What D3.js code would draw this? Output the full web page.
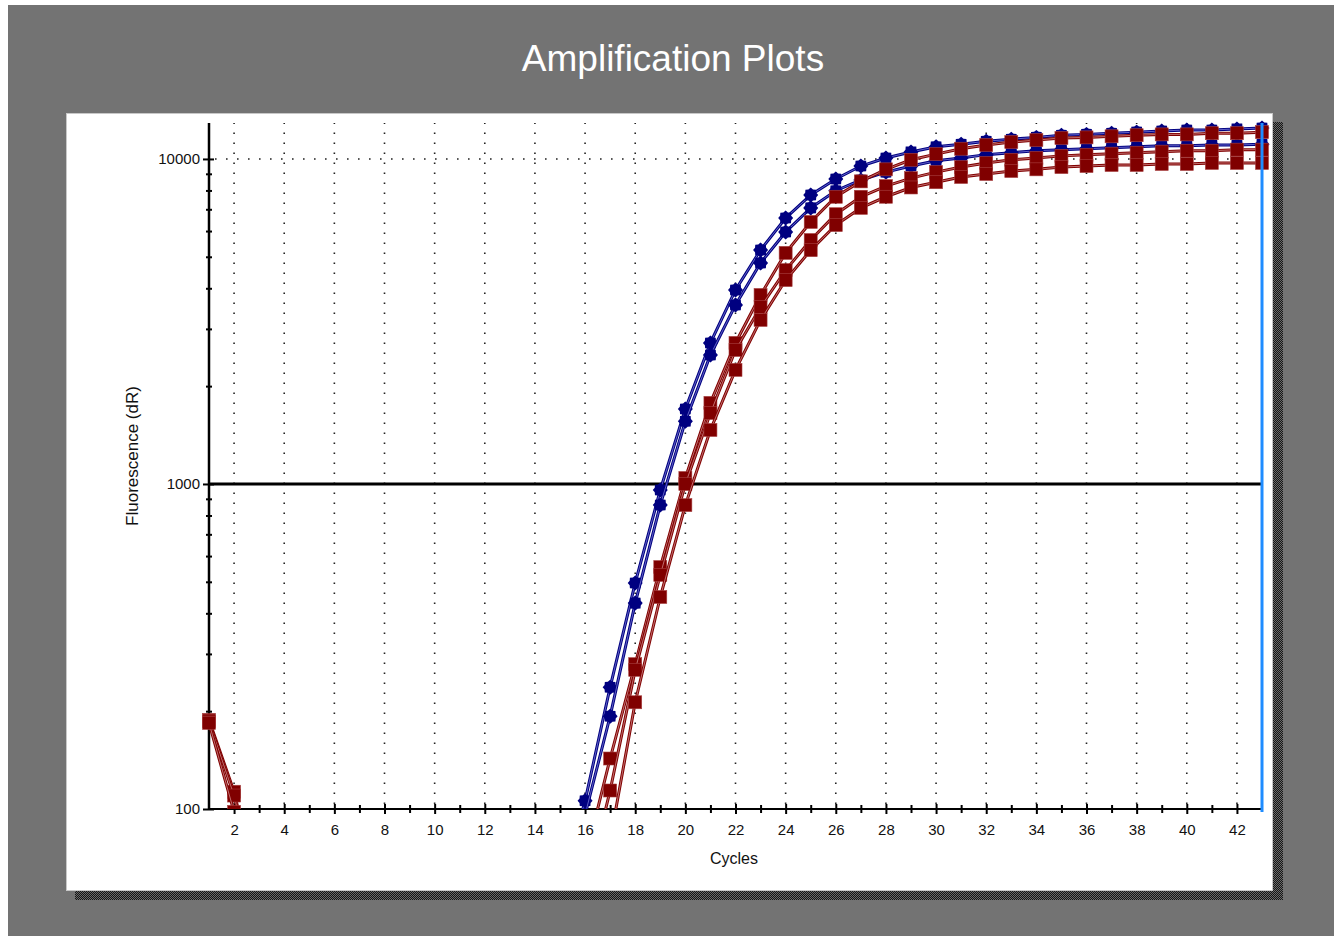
<!DOCTYPE html>
<html>
<head>
<meta charset="utf-8">
<script src="https://cdn.jsdelivr.net/npm/d3@7"></script>
<style>
  body { margin: 0; background: #fff; }
  svg { display: block; font-family: "Liberation Sans", Arial, sans-serif; }
</style>
</head>
<body>
<div id="chart-container"></div>
<script>
// data //

const cycles = d3.range(1, 44);
const xTickLabels = d3.range(2, 43, 2);
const xMinorTicks = d3.range(3, 43, 2);
const yTickLabels = [100, 1000, 10000];
const threshold = 1000;

// two blue wells (cycles 1..43), values below 100 sit under the axis
const blueA = [50, 45, 40, 40, 40, 40, 40, 40, 40, 40, 40, 40, 40, 45, 55, 106, 237, 496, 958, 1700, 2716, 3953, 5248, 6580, 7745, 8676, 9510, 10070, 10510, 10900, 11100, 11340, 11500, 11650, 11830, 11900, 12000, 12090, 12190, 12280, 12280, 12370, 12450];
const blueB = [48, 44, 40, 40, 40, 40, 40, 40, 40, 40, 40, 40, 40, 42, 50, 96, 193, 430, 862, 1560, 2494, 3555, 4786, 5960, 7070, 7985, 8616, 9110, 9510, 9870, 10070, 10310, 10450, 10600, 10680, 10750, 10830, 10900, 10980, 10980, 11040, 11040, 11100];

// three red wells
const redA = [188, 113, 53, 45, 42, 40, 40, 40, 40, 40, 40, 40, 40, 45, 55, 70, 143, 279, 555, 1043, 1776, 2716, 3815, 5140, 6400, 7650, 8530, 9290, 9940, 10350, 10750, 11040, 11270, 11430, 11600, 11650, 11740, 11830, 11900, 11900, 12000, 12000, 12090];
const redB = [186, 110, 52, 45, 42, 40, 40, 40, 40, 40, 40, 40, 40, 42, 50, 55, 114, 268, 525, 1000, 1653, 2584, 3505, 4550, 5630, 6760, 7650, 8250, 8730, 9110, 9440, 9710, 9940, 10070, 10220, 10300, 10380, 10450, 10530, 10600, 10600, 10680, 10680];
const redC = [184, 98, 50, 44, 42, 40, 40, 40, 40, 40, 40, 40, 40, 40, 42, 45, 80, 213, 449, 861, 1466, 2244, 3197, 4240, 5240, 6260, 7070, 7650, 8170, 8480, 8800, 8990, 9180, 9290, 9440, 9510, 9580, 9580, 9650, 9650, 9720, 9720, 9720];

const blueSeries = [blueA, blueB];
const redSeries = [redA, redB, redC];

// layout //

const W = 1334, H = 936;
const plot = { left: 209, right: 1262, top: 123, bottom: 809 };

const svg = d3.select("#chart-container")
  .append("svg")
    .attr("width", W)
    .attr("height", H);

const defs = svg.append("defs");

// checker pattern for the window shadow
const pat = defs.append("pattern")
  .attr("id", "shade")
  .attr("width", 2)
  .attr("height", 2)
  .attr("patternUnits", "userSpaceOnUse");
pat.append("rect").attr("width", 2).attr("height", 2).attr("fill", "#161616");
pat.append("rect").attr("width", 1).attr("height", 1).attr("fill", "#6a6a6a");
pat.append("rect").attr("x", 1).attr("y", 1).attr("width", 1).attr("height", 1).attr("fill", "#6a6a6a");

defs.append("clipPath")
  .attr("id", "plotClip")
  .append("rect")
    .attr("x", 0)
    .attr("y", 0)
    .attr("width", W)
    .attr("height", plot.bottom);

// grey background
svg.append("rect")
  .attr("x", 8)
  .attr("y", 5)
  .attr("width", W - 8)
  .attr("height", H - 5)
  .attr("fill", "#737373");

// title
svg.append("text")
  .attr("x", 673)
  .attr("y", 71)
  .attr("text-anchor", "middle")
  .style("font-size", "37px")
  .style("fill", "#ffffff")
  .text("Amplification Plots");

// shadow + white panel
svg.append("rect")
  .attr("x", 75)
  .attr("y", 122)
  .attr("width", 1208)
  .attr("height", 778)
  .attr("fill", "url(#shade)");

svg.append("rect")
  .attr("x", 66.5)
  .attr("y", 113.5)
  .attr("width", 1206)
  .attr("height", 777)
  .attr("fill", "#ffffff")
  .attr("stroke", "#c8c8c8");

// scales //

const x = d3.scaleLinear()
  .domain([1, 43])
  .range([plot.left, plot.right]);

const y = d3.scaleLog()
  .domain([100, 12900])
  .range([plot.bottom, plot.top]);

// grid //

svg.append("g")
  .selectAll("line")
  .data(xTickLabels)
  .join("line")
    .attr("x1", d => x(d))
    .attr("x2", d => x(d))
    .attr("y1", plot.bottom - 5)
    .attr("y2", plot.top)
    .attr("stroke", "#222")
    .attr("stroke-width", 1.6)
    .attr("stroke-dasharray", "1.6,8.4");

svg.append("line")
  .attr("x1", plot.left + 6)
  .attr("x2", plot.right)
  .attr("y1", y(10000))
  .attr("y2", y(10000))
  .attr("stroke", "#222")
  .attr("stroke-width", 1.6)
  .attr("stroke-dasharray", "1.6,9.4");

// threshold
svg.append("line")
  .attr("x1", plot.left)
  .attr("x2", plot.right)
  .attr("y1", y(threshold))
  .attr("y2", y(threshold))
  .attr("stroke", "#000")
  .attr("stroke-width", 3);

// axes //

const yMinor = [200, 300, 400, 500, 600, 700, 800, 900, 2000, 3000, 4000, 5000, 6000, 7000, 8000, 9000];

const yAxis = svg.append("g")
  .attr("transform", `translate(${plot.left},0)`)
  .call(d3.axisLeft(y)
    .tickValues(yTickLabels)
    .tickFormat(d3.format("d"))
    .tickSize(6)
    .tickPadding(3));
yAxis.selectAll(".tick line").attr("x2", -6).attr("x1", 5).attr("stroke-width", 2);

const yAxisMinor = svg.append("g")
  .attr("transform", `translate(${plot.left},0)`)
  .call(d3.axisLeft(y).tickValues(yMinor).tickFormat("").tickSize(3));
yAxisMinor.selectAll(".tick line").attr("x1", 3).attr("stroke-width", 2);
yAxisMinor.select(".domain").remove();

yAxis.select(".domain")
  .attr("d", `M0,${plot.bottom}V${plot.top}`)
  .attr("stroke-width", 2.5);

const xAxis = svg.append("g")
  .attr("transform", `translate(0,${plot.bottom})`)
  .call(d3.axisBottom(x)
    .tickValues(xTickLabels)
    .tickSize(5)
    .tickPadding(10));
xAxis.selectAll(".tick line").attr("y1", -5).attr("stroke-width", 2);
xAxis.select(".domain")
  .attr("d", `M${plot.left},0H${plot.right}`)
  .attr("stroke-width", 2);

const xAxisMinor = svg.append("g")
  .attr("transform", `translate(0,${plot.bottom})`)
  .call(d3.axisBottom(x).tickValues(xMinorTicks).tickFormat("").tickSize(4));
xAxisMinor.selectAll(".tick line").attr("y1", -4).attr("stroke-width", 2);
xAxisMinor.select(".domain").remove();

svg.selectAll(".tick text")
  .style("font-size", "15px")
  .style("font-family", "'Liberation Sans', Arial, sans-serif")
  .attr("fill", "#111");

// axis titles
svg.append("text")
  .attr("transform", "rotate(-90)")
  .attr("x", -456)
  .attr("y", 138)
  .attr("text-anchor", "middle")
  .style("font-size", "17px")
  .style("fill", "#111")
  .text("Fluorescence (dR)");

svg.append("text")
  .attr("x", 734)
  .attr("y", 864)
  .attr("text-anchor", "middle")
  .style("font-size", "16px")
  .style("fill", "#111")
  .text("Cycles");

// curves //

const line = d3.line()
  .x((d, i) => x(cycles[i]))
  .y(d => y(d));

const curves = svg.append("g").attr("clip-path", "url(#plotClip)");

// bumpy round marker for the blue wells
const bumpy = {
  draw(ctx, size) {
    const n = 16;
    for (let k = 0; k < n; k++) {
      const a = (k / n) * 2 * Math.PI;
      const r = k % 2 ? size * 0.8 : size;
      if (k === 0) ctx.moveTo(r * Math.cos(a), r * Math.sin(a));
      else ctx.lineTo(r * Math.cos(a), r * Math.sin(a));
    }
    ctx.closePath();
  }
};

function drawSeries(data, color, inner, marker) {
  const g = curves.append("g");
  g.append("path")
    .datum(data)
    .attr("fill", "none")
    .attr("stroke", color)
    .attr("stroke-width", 3)
    .attr("d", line);
  g.append("path")
    .datum(data)
    .attr("fill", "none")
    .attr("stroke", inner)
    .attr("stroke-width", 0.8)
    .attr("d", line);

  if (marker === "square") {
    g.selectAll("rect")
      .data(data)
      .join("rect")
        .attr("x", (d, i) => x(cycles[i]) - 6.5)
        .attr("y", d => y(d) - 6.5)
        .attr("width", 13)
        .attr("height", 13)
        .attr("fill", color)
        .attr("stroke", "#a84040")
        .attr("stroke-width", 0.6);
  } else {
    g.selectAll("path.mk")
      .data(data)
      .join("path")
        .attr("class", "mk")
        .attr("transform", (d, i) => `translate(${x(cycles[i])},${y(d)})`)
        .attr("d", d3.symbol().type(bumpy).size(7.5))
        .attr("fill", color);
  }
}

blueSeries.forEach(s => drawSeries(s, "#000080", "#7a7ad8", "round"));
redSeries.forEach(s => drawSeries(s, "#800000", "#d08a8a", "square"));

// end-of-run marker
svg.append("line")
  .attr("x1", x(43))
  .attr("x2", x(43))
  .attr("y1", plot.top)
  .attr("y2", plot.bottom + 3)
  .attr("stroke", "#1e8cff")
  .attr("stroke-width", 3);
</script>
</body>
</html>
